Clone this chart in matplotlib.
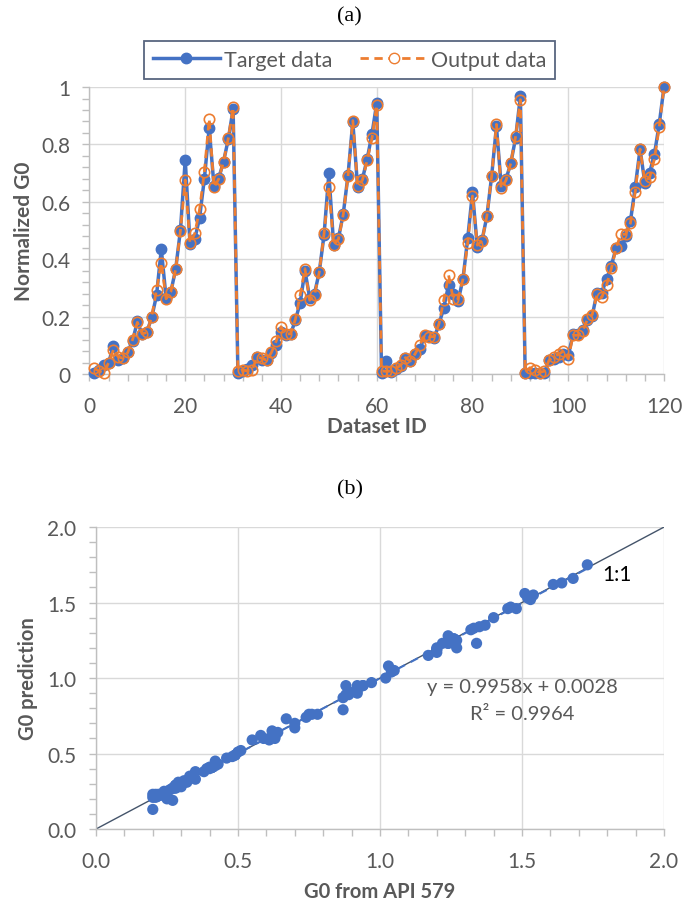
import matplotlib
matplotlib.use("Agg")
import matplotlib.pyplot as plt
from matplotlib.ticker import MultipleLocator, FormatStrFormatter
from matplotlib.lines import Line2D

plt.rcParams['font.family'] = ['Lato', 'DejaVu Sans']

# ---------------- data (a) ----------------
dataset_id = list(range(1, 121))
target = [0.005, 0.015, 0.03, 0.04, 0.098, 0.05, 0.057, 0.077, 0.115, 0.183,
          0.138, 0.147, 0.197, 0.274, 0.435, 0.266, 0.287, 0.365, 0.502, 0.747,
          0.452, 0.47, 0.545, 0.681, 0.857, 0.656, 0.683, 0.74, 0.819, 0.923,
          0.005, 0.01, 0.016, 0.03, 0.06, 0.05, 0.05, 0.072, 0.1, 0.147,
          0.135, 0.138, 0.188, 0.247, 0.36, 0.266, 0.28, 0.356, 0.486, 0.699,
          0.449, 0.473, 0.557, 0.693, 0.879, 0.652, 0.679, 0.749, 0.836, 0.944,
          0.005, 0.045, 0.007, 0.016, 0.028, 0.057, 0.045, 0.069, 0.086, 0.133,
          0.133, 0.127, 0.173, 0.231, 0.31, 0.278, 0.255, 0.33, 0.473, 0.633,
          0.443, 0.467, 0.549, 0.69, 0.863, 0.656, 0.679, 0.735, 0.822, 0.968,
          0.005, 0.002, 0.005, 0.003, 0.002, 0.048, 0.053, 0.06, 0.069, 0.065,
          0.138, 0.138, 0.153, 0.187, 0.202, 0.284, 0.284, 0.33, 0.377, 0.44,
          0.447, 0.481, 0.534, 0.653, 0.784, 0.665, 0.702, 0.766, 0.871, 1.0]
output = [0.02, 0.01, 0.002, 0.04, 0.084, 0.06, 0.055, 0.075, 0.12, 0.18,
          0.14, 0.145, 0.2, 0.293, 0.388, 0.262, 0.287, 0.365, 0.5, 0.676,
          0.455, 0.49, 0.574, 0.705, 0.89, 0.65, 0.68, 0.74, 0.822, 0.929,
          0.01, 0.015, 0.01, 0.015, 0.06, 0.055, 0.048, 0.075, 0.115, 0.165,
          0.14, 0.14, 0.19, 0.274, 0.367, 0.257, 0.275, 0.355, 0.49, 0.652,
          0.45, 0.47, 0.555, 0.69, 0.883, 0.655, 0.675, 0.745, 0.821, 0.937,
          0.01, 0.01, 0.01, 0.02, 0.03, 0.057, 0.045, 0.07, 0.1, 0.137,
          0.13, 0.13, 0.175, 0.258, 0.345, 0.26, 0.262, 0.33, 0.458, 0.62,
          0.449, 0.465, 0.55, 0.69, 0.87, 0.647, 0.675, 0.735, 0.828, 0.956,
          0.005, 0.022, 0.015, 0.005, 0.01, 0.048, 0.06, 0.069, 0.08, 0.053,
          0.135, 0.135, 0.15, 0.19, 0.207, 0.278, 0.267, 0.31, 0.368, 0.44,
          0.487, 0.487, 0.526, 0.635, 0.784, 0.672, 0.685, 0.749, 0.86, 1.0]

# ---------------- data (b) ----------------
g0_api = [0.21, 0.22, 0.25, 0.26, 0.35, 0.28, 0.29, 0.32, 0.38, 0.48,
          0.41, 0.42, 0.50, 0.62, 0.87, 0.61, 0.64, 0.76, 0.97, 1.34,
          0.89, 0.92, 1.03, 1.24, 1.51, 1.20, 1.25, 1.33, 1.45, 1.61,
          0.21, 0.22, 0.22, 0.25, 0.29, 0.28, 0.28, 0.31, 0.35, 0.42,
          0.41, 0.41, 0.49, 0.58, 0.75, 0.61, 0.63, 0.74, 0.94, 1.27,
          0.89, 0.92, 1.05, 1.26, 1.54, 1.20, 1.24, 1.35, 1.48, 1.64,
          0.21, 0.27, 0.21, 0.22, 0.24, 0.29, 0.27, 0.31, 0.33, 0.40,
          0.40, 0.39, 0.46, 0.55, 0.67, 0.63, 0.59, 0.70, 0.92, 1.17,
          0.88, 0.91, 1.04, 1.26, 1.52, 1.20, 1.24, 1.32, 1.46, 1.68,
          0.21, 0.20, 0.21, 0.20, 0.20, 0.27, 0.28, 0.29, 0.31, 0.30,
          0.41, 0.41, 0.43, 0.49, 0.51, 0.63, 0.63, 0.70, 0.78, 0.87,
          0.88, 0.94, 1.02, 1.20, 1.40, 1.22, 1.27, 1.37, 1.53, 1.73]
g0_pred = [0.23, 0.22, 0.20, 0.26, 0.33, 0.29, 0.28, 0.31, 0.38, 0.48,
           0.41, 0.42, 0.51, 0.65, 0.79, 0.60, 0.64, 0.76, 0.97, 1.23,
           0.90, 0.95, 1.08, 1.28, 1.56, 1.19, 1.24, 1.33, 1.46, 1.62,
           0.22, 0.22, 0.22, 0.22, 0.29, 0.28, 0.27, 0.31, 0.38, 0.45,
           0.41, 0.41, 0.49, 0.62, 0.76, 0.59, 0.62, 0.74, 0.95, 1.20,
           0.89, 0.92, 1.05, 1.26, 1.55, 1.20, 1.23, 1.34, 1.46, 1.63,
           0.22, 0.19, 0.22, 0.23, 0.25, 0.29, 0.27, 0.31, 0.35, 0.41,
           0.40, 0.40, 0.47, 0.59, 0.73, 0.60, 0.60, 0.70, 0.90, 1.15,
           0.89, 0.91, 1.04, 1.26, 1.53, 1.19, 1.23, 1.32, 1.47, 1.66,
           0.21, 0.23, 0.22, 0.21, 0.13, 0.27, 0.29, 0.31, 0.32, 0.28,
           0.41, 0.41, 0.43, 0.49, 0.52, 0.63, 0.61, 0.67, 0.76, 0.87,
           0.95, 0.95, 1.00, 1.17, 1.40, 1.23, 1.25, 1.35, 1.52, 1.75]
trend_slope = 0.9958
trend_intercept = 0.0028
r_squared = 0.9964

BLUE = '#4472C4'
ORANGE = '#ED7D31'
GRID = '#D9D9D9'
AXIS = '#BFBFBF'
TXT = '#595959'

fig = plt.figure(figsize=(6.98, 9.03), dpi=100)


def style_axes(ax):
    ax.grid(True, which='major', color=GRID, linewidth=1.0, zorder=0)
    ax.set_axisbelow(True)
    for s in ['top', 'right']:
        ax.spines[s].set_visible(False)
    for s in ['left', 'bottom']:
        ax.spines[s].set_color(AXIS)
        ax.spines[s].set_linewidth(1.0)
    ax.tick_params(which='both', direction='out', color=AXIS, width=1.0, length=5)
    ax.tick_params(which='major', labelcolor=TXT, labelsize=15, pad=9)


# ---------------- panel (a) ----------------
ax1 = fig.add_axes([0.1282, 0.5847, 0.8231, 0.3178])
ax1.plot(dataset_id, target, color=BLUE, linewidth=2.5, marker='o', markersize=7.5,
         markerfacecolor=BLUE, markeredgecolor=BLUE, clip_on=False, zorder=3,
         label='Target data')
ax1.plot(dataset_id, output, color=ORANGE, linewidth=2.0, linestyle=(0, (3, 2)),
         marker='o', markersize=7.5, markerfacecolor='none', markeredgecolor=ORANGE,
         markeredgewidth=1.2, clip_on=False, zorder=4, label='Output data')
ax1.set_xlim(0, 120)
ax1.set_ylim(0, 1)
ax1.xaxis.set_major_locator(MultipleLocator(20))
ax1.xaxis.set_minor_locator(MultipleLocator(4))
ax1.yaxis.set_major_locator(MultipleLocator(0.2))
ax1.yaxis.set_minor_locator(MultipleLocator(0.04))
ax1.yaxis.set_major_formatter(matplotlib.ticker.FuncFormatter(lambda v, p: f'{v:g}'))
style_axes(ax1)
ax1.tick_params(axis='x', which='major', pad=11)
ax1.set_xlabel('Dataset ID', fontsize=15, fontweight='bold', color=TXT, labelpad=0)
ax1.set_ylabel('Normalized G0', fontsize=15, fontweight='bold', color=TXT, labelpad=5)

fig.text(0.501, 0.981, '(a)', ha='center', va='center', fontsize=16,
         family=['Liberation Serif', 'DejaVu Serif'])

handles = [Line2D([], [], color=BLUE, linewidth=2.5, marker='o', markersize=7.5),
           Line2D([], [], color=ORANGE, linewidth=2.0, linestyle=(0, (3, 2)), marker='o',
                  markersize=7.5, markerfacecolor='white', markeredgecolor=ORANGE)]
leg = fig.legend(handles, ['Target data', 'Output data'], loc='center',
                 bbox_to_anchor=(0.501, 0.9325), ncol=2, frameon=True, fancybox=False,
                 fontsize=15.5, handlelength=3.1, handletextpad=0.2, columnspacing=1.3,
                 borderpad=0.4, borderaxespad=0, labelcolor=TXT)
leg.get_frame().set_edgecolor('#2F3F5F')
leg.get_frame().set_linewidth(1.3)

# ---------------- panel (b) ----------------
ax2 = fig.add_axes([0.1375, 0.0808, 0.8138, 0.3344])
ax2.plot([0, 2], [0, 2], color='#44546A', linewidth=1.0, zorder=2)
ax2.scatter(g0_api, g0_pred, s=65, color=BLUE, edgecolors='none', zorder=3)
tx = [min(g0_api), max(g0_api)]
ax2.plot(tx, [trend_slope * v + trend_intercept for v in tx], color=BLUE,
         linewidth=1.5, linestyle=(0, (4, 3)), zorder=2.5)
ax2.set_xlim(0, 2)
ax2.set_ylim(0, 2)
ax2.xaxis.set_major_locator(MultipleLocator(0.5))
ax2.xaxis.set_minor_locator(MultipleLocator(0.1))
ax2.yaxis.set_major_locator(MultipleLocator(0.5))
ax2.yaxis.set_minor_locator(MultipleLocator(0.1))
ax2.xaxis.set_major_formatter(FormatStrFormatter('%.1f'))
ax2.yaxis.set_major_formatter(FormatStrFormatter('%.1f'))
style_axes(ax2)
ax2.tick_params(axis='x', which='major', pad=11)
ax2.set_xlabel('G0 from API 579', fontsize=14.5, fontweight='bold', color=TXT, labelpad=7)
ax2.set_ylabel('G0 prediction', fontsize=14.5, fontweight='bold', color=TXT, labelpad=7)
ax2.text(1.835, 1.69, '1:1', fontsize=15, color='black', ha='center', va='center')
ax2.text(1.50, 0.946, f'y = {trend_slope}x + {trend_intercept}', fontsize=14.5,
         color=TXT, ha='center', va='center')
ax2.text(1.50, 0.763, f'R² = {r_squared}', fontsize=14.5, color=TXT,
         ha='center', va='center')

fig.text(0.501, 0.457, '(b)', ha='center', va='center', fontsize=16,
         family=['Liberation Serif', 'DejaVu Serif'])

fig.savefig('out.png', dpi=100)
